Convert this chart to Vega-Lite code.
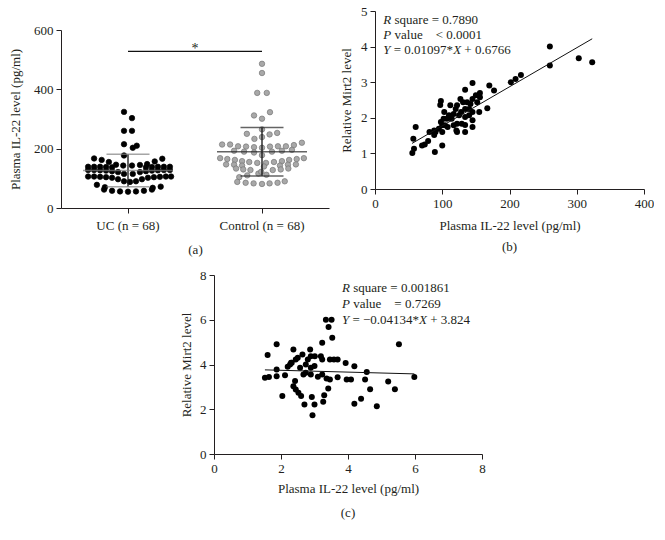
{
  "$schema": "https://vega.github.io/schema/vega-lite/v6.json",
  "background": "white",
  "padding": {"left": 9, "top": 5, "right": 0, "bottom": 0},
  "config": {
    "view": {"stroke": null},
    "font": "Liberation Serif",
    "axis": {
      "labelFont": "Liberation Serif", "titleFont": "Liberation Serif",
      "labelFontSize": 13, "titleFontSize": 13, "titleFontWeight": "normal",
      "labelColor": "#231f20", "titleColor": "#231f20",
      "domainColor": "#231f20", "tickColor": "#231f20",
      "grid": false, "tickSize": 5, "labelPadding": 3, "labelOverlap": false, "labelFlush": false
    },
    "axisY": {"labelOverlap": false},
    "title": {"font": "Liberation Serif", "fontSize": 13, "fontWeight": "normal", "color": "#231f20"}
  },
  "spacing": 13,
  "vconcat": [
    {
      "spacing": 11,
      "hconcat": [
        {
          "spacing": 12,
          "vconcat": [
            {
              "width": 1, "height": 1,
              "data": {"values": []},
              "mark": {"type": "point", "opacity": 0},
              "encoding": {}
            },
            {
              "width": 268, "height": 178,
              "layer": [
                {
                  "data": {"values": [
                    {"g":"UC","v":324,"j":-0.1},{"g":"UC","v":303,"j":0.1},{"g":"UC","v":260,"j":-0.1},{"g":"UC","v":260,"j":0.1},
                    {"g":"UC","v":215,"j":-0.1},{"g":"UC","v":203,"j":0.12},{"g":"UC","v":210,"j":0.22},{"g":"UC","v":177,"j":-0.1},
                    {"g":"UC","v":167,"j":-0.85},{"g":"UC","v":162,"j":-0.66},{"g":"UC","v":155,"j":-0.48},{"g":"UC","v":146,"j":-0.3},{"g":"UC","v":143,"j":-0.12},
                    {"g":"UC","v":143,"j":0.1},{"g":"UC","v":145,"j":0.3},{"g":"UC","v":148,"j":0.48},{"g":"UC","v":157,"j":0.67},{"g":"UC","v":166,"j":0.86},
                    {"g":"UC","v":139,"j":-1.0},{"g":"UC","v":139,"j":-0.85},{"g":"UC","v":139,"j":-0.7},{"g":"UC","v":138,"j":-0.55},{"g":"UC","v":137,"j":-0.4},
                    {"g":"UC","v":137,"j":0.45},{"g":"UC","v":138,"j":0.6},{"g":"UC","v":139,"j":0.75},{"g":"UC","v":139,"j":0.9},{"g":"UC","v":139,"j":1.05},
                    {"g":"UC","v":128,"j":-1.0},{"g":"UC","v":128,"j":-0.85},{"g":"UC","v":127,"j":-0.7},{"g":"UC","v":126,"j":-0.55},{"g":"UC","v":124,"j":-0.4},
                    {"g":"UC","v":121,"j":-0.25},{"g":"UC","v":115,"j":-0.1},{"g":"UC","v":115,"j":0.12},{"g":"UC","v":121,"j":0.3},{"g":"UC","v":124,"j":0.45},
                    {"g":"UC","v":126,"j":0.6},{"g":"UC","v":127,"j":0.75},{"g":"UC","v":128,"j":0.9},{"g":"UC","v":128,"j":1.05},
                    {"g":"UC","v":106,"j":-1.0},{"g":"UC","v":106,"j":-0.85},{"g":"UC","v":105,"j":-0.7},{"g":"UC","v":104,"j":-0.55},{"g":"UC","v":102,"j":-0.4},
                    {"g":"UC","v":97,"j":-0.25},{"g":"UC","v":90,"j":-0.1},{"g":"UC","v":88,"j":0.05},{"g":"UC","v":90,"j":0.2},{"g":"UC","v":97,"j":0.35},
                    {"g":"UC","v":102,"j":0.5},{"g":"UC","v":104,"j":0.65},{"g":"UC","v":105,"j":0.8},{"g":"UC","v":106,"j":0.95},{"g":"UC","v":106,"j":1.08},
                    {"g":"UC","v":78,"j":-0.78},{"g":"UC","v":70,"j":-0.58},{"g":"UC","v":68,"j":0.62},{"g":"UC","v":72,"j":0.82},
                    {"g":"UC","v":62,"j":-0.6},{"g":"UC","v":58,"j":-0.4},{"g":"UC","v":56,"j":-0.2},{"g":"UC","v":55,"j":0},{"g":"UC","v":56,"j":0.2},{"g":"UC","v":58,"j":0.4},{"g":"UC","v":62,"j":0.6},
                    {"g":"Control","v":486,"j":0},{"g":"Control","v":455,"j":0},{"g":"Control","v":388,"j":-0.12},{"g":"Control","v":388,"j":0.12},
                    {"g":"Control","v":312,"j":-0.2},{"g":"Control","v":301,"j":0},{"g":"Control","v":323,"j":0.2},{"g":"Control","v":265,"j":0},
                    {"g":"Control","v":250,"j":-0.38},{"g":"Control","v":233,"j":-0.19},{"g":"Control","v":239,"j":0},{"g":"Control","v":248,"j":0.19},{"g":"Control","v":253,"j":0.38},
                    {"g":"Control","v":214,"j":-1.0},{"g":"Control","v":214,"j":-0.8},{"g":"Control","v":208,"j":-0.6},{"g":"Control","v":207,"j":-0.4},{"g":"Control","v":205,"j":-0.2},
                    {"g":"Control","v":203,"j":0},{"g":"Control","v":207,"j":0.2},{"g":"Control","v":208,"j":0.4},{"g":"Control","v":208,"j":0.6},{"g":"Control","v":212,"j":0.8},{"g":"Control","v":220,"j":1.0},
                    {"g":"Control","v":193,"j":-0.7},{"g":"Control","v":190,"j":-0.45},{"g":"Control","v":187,"j":-0.2},{"g":"Control","v":190,"j":0.25},{"g":"Control","v":193,"j":0.5},{"g":"Control","v":196,"j":0.75},
                    {"g":"Control","v":168,"j":-1.05},{"g":"Control","v":165,"j":-0.87},{"g":"Control","v":162,"j":-0.68},{"g":"Control","v":158,"j":-0.5},{"g":"Control","v":155,"j":-0.32},{"g":"Control","v":152,"j":-0.12},
                    {"g":"Control","v":152,"j":0.1},{"g":"Control","v":155,"j":0.3},{"g":"Control","v":158,"j":0.5},{"g":"Control","v":162,"j":0.68},{"g":"Control","v":165,"j":0.87},{"g":"Control","v":168,"j":1.05},
                    {"g":"Control","v":147,"j":-0.9},{"g":"Control","v":146,"j":-0.7},{"g":"Control","v":143,"j":-0.5},{"g":"Control","v":143,"j":0.45},{"g":"Control","v":146,"j":0.65},{"g":"Control","v":147,"j":0.85},
                    {"g":"Control","v":133,"j":-0.65},{"g":"Control","v":130,"j":-0.47},{"g":"Control","v":128,"j":-0.29},{"g":"Control","v":128,"j":0.27},{"g":"Control","v":130,"j":0.47},{"g":"Control","v":133,"j":0.66},
                    {"g":"Control","v":104,"j":-0.57},{"g":"Control","v":110,"j":-0.37},{"g":"Control","v":116,"j":-0.09},{"g":"Control","v":112,"j":0.11},
                    {"g":"Control","v":88,"j":-0.62},{"g":"Control","v":85,"j":-0.41},{"g":"Control","v":83,"j":-0.21},{"g":"Control","v":81,"j":0},{"g":"Control","v":83,"j":0.19},{"g":"Control","v":85,"j":0.39},{"g":"Control","v":90,"j":0.57},
                    {"g":"Control","v":178,"j":0},{"g":"Control","v":140,"j":0.05},{"g":"Control","v":122,"j":-0.02}
                  ]},
                  "mark": {"type": "point", "filled": true, "size": 30, "strokeWidth": 0.7, "opacity": 1},
                  "encoding": {
                    "x": {"field": "g", "type": "nominal", "sort": ["UC", "Control"],
                          "scale": {"type": "band", "domain": ["UC", "Control"], "paddingInner": 0, "paddingOuter": 0},
                          "axis": {"title": "(a)", "labelExpr": "datum.value + ' (n = 68)'", "labelAngle": 0, "labelPadding": 6, "titlePadding": 11}},
                    "xOffset": {"field": "j", "type": "quantitative", "scale": {"domain": [-1.68, 1.68]}},
                    "y": {"field": "v", "type": "quantitative", "scale": {"domain": [0, 600], "nice": false},
                          "axis": {"values": [0, 200, 400, 600], "title": "Plasma IL-22 level (pg/ml)", "titlePadding": 11, "labelOverlap": false, "labelFlush": false}},
                    "fill": {"field": "g", "type": "nominal", "scale": {"domain": ["UC", "Control"], "range": ["#000000", "#a8a8a8"]}, "legend": null},
                    "stroke": {"field": "g", "type": "nominal", "scale": {"domain": ["UC", "Control"], "range": ["#000000", "#777777"]}, "legend": null}
                  }
                },
                {
                  "data": {"values": [{"g":"UC","mean":126,"lo":72,"hi":181},{"g":"Control","mean":190,"lo":108,"hi":271}]},
                  "mark": {"type": "rule", "color": "#111111", "strokeWidth": 1.3},
                  "encoding": {
                    "x": {"field": "g", "type": "nominal"},
                    "y": {"field": "lo", "type": "quantitative"},
                    "y2": {"field": "hi"}
                  }
                },
                {
                  "data": {"values": [{"g":"UC","mean":126,"lo":72,"hi":181},{"g":"Control","mean":190,"lo":108,"hi":271}]},
                  "mark": {"type": "tick", "size": 90, "thickness": 1.5},
                  "encoding": {
                    "x": {"field": "g", "type": "nominal"},
                    "y": {"field": "mean", "type": "quantitative"},
                    "color": {"field": "g", "type": "nominal", "scale": {"domain": ["UC", "Control"], "range": ["#7f7f7f", "#222222"]}, "legend": null}
                  }
                },
                {
                  "data": {"values": [{"g":"UC","mean":126,"lo":72,"hi":181},{"g":"Control","mean":190,"lo":108,"hi":271}]},
                  "mark": {"type": "tick", "size": 43, "thickness": 1.5},
                  "encoding": {
                    "x": {"field": "g", "type": "nominal"},
                    "y": {"field": "lo", "type": "quantitative"},
                    "color": {"field": "g", "type": "nominal", "legend": null}
                  }
                },
                {
                  "data": {"values": [{"g":"UC","mean":126,"lo":72,"hi":181},{"g":"Control","mean":190,"lo":108,"hi":271}]},
                  "mark": {"type": "tick", "size": 43, "thickness": 1.5},
                  "encoding": {
                    "x": {"field": "g", "type": "nominal"},
                    "y": {"field": "hi", "type": "quantitative"},
                    "color": {"field": "g", "type": "nominal", "legend": null}
                  }
                },
                {
                  "data": {"values": [{"g":"UC","y":528},{"g":"Control","y":528}]},
                  "mark": {"type": "line", "color": "#111111", "strokeWidth": 1.2},
                  "encoding": {
                    "x": {"field": "g", "type": "nominal"},
                    "y": {"field": "y", "type": "quantitative"}
                  }
                },
                {
                  "data": {"values": [{"g":"UC","y":535,"t":"*"}]},
                  "mark": {"type": "text", "fontSize": 14, "baseline": "middle", "color": "#231f20"},
                  "encoding": {
                    "x": {"field": "g", "type": "nominal", "bandPosition": 1},
                    "y": {"field": "y", "type": "quantitative"},
                    "text": {"field": "t"}
                  }
                }
              ]
            }
          ]
        },
        {
          "width": 269, "height": 178,
          "title": {"text": "(b)", "orient": "bottom", "offset": 8},
          "layer": [
            {
              "data": {"values": [
                {"x":55.5,"y":1.01},{"x":58,"y":1.13},{"x":57,"y":1.41},{"x":60.5,"y":1.74},{"x":70,"y":1.22},{"x":74,"y":1.25},
                {"x":79,"y":1.35},{"x":81,"y":1.6},{"x":88,"y":1.52},{"x":88,"y":1.64},{"x":89,"y":1.04},{"x":90,"y":1.6},
                {"x":95,"y":1.69},{"x":98,"y":2.47},{"x":97,"y":2.36},{"x":100,"y":1.22},{"x":100,"y":1.6},{"x":100,"y":1.79},
                {"x":98,"y":1.88},{"x":102,"y":1.97},{"x":103,"y":2.16},{"x":104,"y":1.79},{"x":107,"y":1.97},{"x":108,"y":1.74},
                {"x":110,"y":2.07},{"x":112,"y":2.35},{"x":114,"y":1.97},{"x":117,"y":2.11},{"x":117,"y":1.79},{"x":120,"y":2.25},
                {"x":121,"y":1.64},{"x":122,"y":2.35},{"x":122,"y":1.6},{"x":122,"y":1.83},{"x":125,"y":2.07},{"x":127,"y":2.53},
                {"x":128,"y":2.16},{"x":129,"y":1.83},{"x":131,"y":2.44},{"x":134,"y":2.79},{"x":134,"y":2.25},{"x":134,"y":2.02},
                {"x":134,"y":1.8},{"x":134,"y":1.6},{"x":137,"y":2.44},{"x":140,"y":2.25},{"x":140,"y":2.07},{"x":142,"y":2.39},
                {"x":145,"y":2.53},{"x":145,"y":2.98},{"x":145,"y":2.16},{"x":145,"y":1.93},{"x":145,"y":1.74},{"x":150,"y":2.63},
                {"x":152,"y":2.44},{"x":155,"y":2.16},{"x":156,"y":2.7},{"x":156,"y":2.58},{"x":167,"y":2.27},{"x":170,"y":2.91},
                {"x":177,"y":2.77},{"x":202,"y":3.0},{"x":209,"y":3.09},{"x":217,"y":3.2},{"x":260,"y":4.0},{"x":260,"y":3.47},
                {"x":303,"y":3.67},{"x":323,"y":3.56}
              ]},
              "mark": {"type": "point", "filled": true, "size": 36, "color": "#000000", "opacity": 1},
              "encoding": {
                "x": {"field": "x", "type": "quantitative", "scale": {"domain": [0, 400], "nice": false},
                      "axis": {"values": [0, 100, 200, 300, 400], "title": "Plasma IL-22 level (pg/ml)", "titlePadding": 9.5, "labelOverlap": false, "labelFlush": false}},
                "y": {"field": "y", "type": "quantitative", "scale": {"domain": [0, 5], "nice": false},
                      "axis": {"tickCount": 5, "format": "d", "title": "Relative Mirt2 level", "titlePadding": 7, "labelOverlap": false, "labelFlush": false}}
              }
            },
            {
              "data": {"values": [{"x":55,"y":1.28},{"x":323,"y":4.22}]},
              "mark": {"type": "line", "color": "#111111", "strokeWidth": 1},
              "encoding": {"x": {"field": "x", "type": "quantitative"}, "y": {"field": "y", "type": "quantitative"}}
            },
            {
              "data": {"values": [{"x":12.4,"y":4.75,"t":"R"},{"x":12.4,"y":4.33,"t":"P"},{"x":12.4,"y":3.9,"t":"Y"}]},
              "mark": {"type": "text", "fontStyle": "italic", "align": "left", "baseline": "middle", "fontSize": 13, "color": "#231f20"},
              "encoding": {"x": {"field": "x", "type": "quantitative"}, "y": {"field": "y", "type": "quantitative"}, "text": {"field": "t"}}
            },
            {
              "data": {"values": [{"x":12.4,"y":4.75,"t":"square = 0.7890"},{"x":12.4,"y":4.33,"t":"value\u00a0\u00a0\u00a0\u00a0< 0.0001"}]},
              "mark": {"type": "text", "align": "left", "baseline": "middle", "fontSize": 13, "dx": 11.2, "color": "#231f20"},
              "encoding": {"x": {"field": "x", "type": "quantitative"}, "y": {"field": "y", "type": "quantitative"}, "text": {"field": "t"}}
            },
            {
              "data": {"values": [{"x":12.4,"y":3.9,"t":"= 0.01097*"}]},
              "mark": {"type": "text", "align": "left", "baseline": "middle", "fontSize": 13, "dx": 10.45, "color": "#231f20"},
              "encoding": {"x": {"field": "x", "type": "quantitative"}, "y": {"field": "y", "type": "quantitative"}, "text": {"field": "t"}}
            },
            {
              "data": {"values": [{"x":12.4,"y":3.9,"t":"X"}]},
              "mark": {"type": "text", "fontStyle": "italic", "align": "left", "baseline": "middle", "fontSize": 13, "dx": 69.8, "color": "#231f20"},
              "encoding": {"x": {"field": "x", "type": "quantitative"}, "y": {"field": "y", "type": "quantitative"}, "text": {"field": "t"}}
            },
            {
              "data": {"values": [{"x":12.4,"y":3.9,"t":"+ 0.6766"}]},
              "mark": {"type": "text", "align": "left", "baseline": "middle", "fontSize": 13, "dx": 81, "color": "#231f20"},
              "encoding": {"x": {"field": "x", "type": "quantitative"}, "y": {"field": "y", "type": "quantitative"}, "text": {"field": "t"}}
            }
          ]
        }
      ]
    },
    {
      "spacing": 0,
      "hconcat": [
        {
          "width": 119, "height": 10,
          "data": {"values": []},
          "mark": {"type": "point", "opacity": 0},
          "encoding": {}
        },
        {
          "width": 268, "height": 179,
          "title": {"text": "(c)", "orient": "bottom", "offset": 12},
          "layer": [
            {
              "data": {"values": [
                {"x":1.52,"y":3.41},{"x":1.64,"y":3.44},{"x":1.87,"y":3.48},{"x":1.87,"y":3.78},{"x":1.6,"y":4.42},{"x":1.87,"y":4.9},
                {"x":2.12,"y":3.52},{"x":2.04,"y":2.59},{"x":2.27,"y":4.0},{"x":2.3,"y":4.08},{"x":2.37,"y":4.67},{"x":2.44,"y":4.22},
                {"x":2.42,"y":3.26},{"x":2.37,"y":3.03},{"x":2.44,"y":2.88},{"x":2.52,"y":2.74},{"x":2.6,"y":2.59},{"x":2.7,"y":2.21},
                {"x":2.67,"y":3.55},{"x":2.64,"y":4.45},{"x":2.74,"y":4.0},{"x":2.8,"y":4.22},{"x":2.87,"y":4.67},{"x":2.89,"y":4.37},
                {"x":2.89,"y":3.85},{"x":2.89,"y":3.55},{"x":2.92,"y":2.55},{"x":3.0,"y":2.21},{"x":2.94,"y":1.73},{"x":3.01,"y":4.37},
                {"x":3.19,"y":4.37},{"x":3.23,"y":4.97},{"x":3.23,"y":4.22},{"x":3.23,"y":3.55},{"x":3.29,"y":2.63},{"x":3.26,"y":2.34},
                {"x":3.34,"y":6.0},{"x":3.51,"y":6.0},{"x":3.42,"y":5.68},{"x":3.53,"y":5.19},{"x":3.46,"y":4.22},{"x":3.58,"y":4.22},
                {"x":3.69,"y":4.22},{"x":3.36,"y":3.37},{"x":3.46,"y":3.33},{"x":3.41,"y":2.93},{"x":3.69,"y":3.43},{"x":3.93,"y":4.07},
                {"x":3.96,"y":3.33},{"x":4.09,"y":3.33},{"x":4.19,"y":3.92},{"x":4.19,"y":2.25},{"x":4.39,"y":2.47},{"x":4.51,"y":3.33},
                {"x":4.56,"y":3.67},{"x":4.66,"y":2.89},{"x":4.86,"y":2.13},{"x":5.2,"y":3.24},{"x":5.4,"y":2.89},{"x":5.52,"y":4.9},
                {"x":5.98,"y":3.44},{"x":2.57,"y":3.85},{"x":2.32,"y":4.08},{"x":3.0,"y":3.93},{"x":2.74,"y":3.63},{"x":2.5,"y":4.3},
                {"x":3.1,"y":3.45},{"x":2.2,"y":3.9}
              ]},
              "mark": {"type": "point", "filled": true, "size": 36, "color": "#000000", "opacity": 1},
              "encoding": {
                "x": {"field": "x", "type": "quantitative", "scale": {"domain": [0, 8], "nice": false},
                      "axis": {"values": [0, 2, 4, 6, 8], "title": "Plasma IL-22 level (pg/ml)", "titlePadding": 7, "labelOverlap": false, "labelFlush": false}},
                "y": {"field": "y", "type": "quantitative", "scale": {"domain": [0, 8], "nice": false},
                      "axis": {"values": [0, 2, 4, 6, 8], "title": "Relative Mirt2 level", "titlePadding": 6, "labelOverlap": false, "labelFlush": false}}
              }
            },
            {
              "data": {"values": [{"x":1.52,"y":3.76},{"x":5.98,"y":3.58}]},
              "mark": {"type": "line", "color": "#111111", "strokeWidth": 1},
              "encoding": {"x": {"field": "x", "type": "quantitative"}, "y": {"field": "y", "type": "quantitative"}}
            },
            {
              "data": {"values": [{"x":3.82,"y":7.41,"t":"R"},{"x":3.82,"y":6.7,"t":"P"},{"x":3.82,"y":5.98,"t":"Y"}]},
              "mark": {"type": "text", "fontStyle": "italic", "align": "left", "baseline": "middle", "fontSize": 13, "color": "#231f20"},
              "encoding": {"x": {"field": "x", "type": "quantitative"}, "y": {"field": "y", "type": "quantitative"}, "text": {"field": "t"}}
            },
            {
              "data": {"values": [{"x":3.82,"y":7.41,"t":"square = 0.001861"},{"x":3.82,"y":6.7,"t":"value\u00a0\u00a0\u00a0\u00a0= 0.7269"}]},
              "mark": {"type": "text", "align": "left", "baseline": "middle", "fontSize": 13, "dx": 11.2, "color": "#231f20"},
              "encoding": {"x": {"field": "x", "type": "quantitative"}, "y": {"field": "y", "type": "quantitative"}, "text": {"field": "t"}}
            },
            {
              "data": {"values": [{"x":3.82,"y":5.98,"t":"= \u22120.04134*"}]},
              "mark": {"type": "text", "align": "left", "baseline": "middle", "fontSize": 13, "dx": 10.45, "color": "#231f20"},
              "encoding": {"x": {"field": "x", "type": "quantitative"}, "y": {"field": "y", "type": "quantitative"}, "text": {"field": "t"}}
            },
            {
              "data": {"values": [{"x":3.82,"y":5.98,"t":"X"}]},
              "mark": {"type": "text", "fontStyle": "italic", "align": "left", "baseline": "middle", "fontSize": 13, "dx": 77.1, "color": "#231f20"},
              "encoding": {"x": {"field": "x", "type": "quantitative"}, "y": {"field": "y", "type": "quantitative"}, "text": {"field": "t"}}
            },
            {
              "data": {"values": [{"x":3.82,"y":5.98,"t":"+ 3.824"}]},
              "mark": {"type": "text", "align": "left", "baseline": "middle", "fontSize": 13, "dx": 88.3, "color": "#231f20"},
              "encoding": {"x": {"field": "x", "type": "quantitative"}, "y": {"field": "y", "type": "quantitative"}, "text": {"field": "t"}}
            }
          ]
        }
      ]
    }
  ]
}
